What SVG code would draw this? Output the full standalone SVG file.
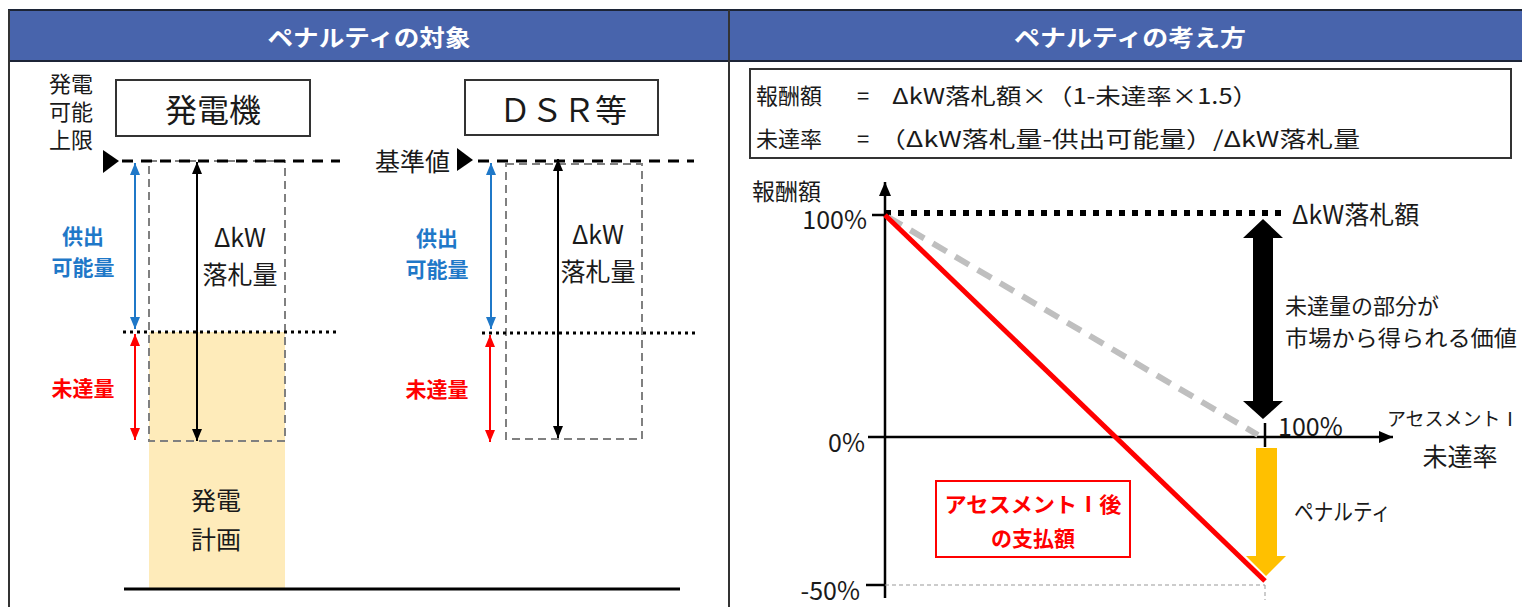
<svg xmlns="http://www.w3.org/2000/svg" width="1522" height="607" viewBox="0 0 1522 607">
<defs>
<style>
text{font-family:"Noto Sans CJK JP","Noto Sans",sans-serif;fill:#1a1a1a;dominant-baseline:central}
.hd{fill:#fff;font-weight:bold;font-size:23px;text-anchor:middle}
.c{text-anchor:middle}
.r{text-anchor:end}
.blue{fill:#1F78C8;font-weight:bold;font-size:21px;text-anchor:middle}
.red{fill:#FF0000;font-weight:bold;font-size:21px;text-anchor:middle}
.lbl{font-size:25px}
.gbox{fill:none;stroke:#808080;stroke-width:2;stroke-dasharray:8 5}
.top{stroke:#000;stroke-width:3;stroke-dasharray:11 8}
.dot{stroke:#000;stroke-width:3;stroke-dasharray:3 4}
</style>
<marker id="aK" viewBox="0 0 12 10" markerWidth="12" markerHeight="10" refX="12" refY="5" markerUnits="userSpaceOnUse" orient="auto-start-reverse"><path d="M0,0L12,5L0,10z" fill="#000"/></marker>
<marker id="aB" viewBox="0 0 12 10" markerWidth="12" markerHeight="10" refX="12" refY="5" markerUnits="userSpaceOnUse" orient="auto-start-reverse"><path d="M0,0L12,5L0,10z" fill="#1F78C8"/></marker>
<marker id="aR" viewBox="0 0 12 10" markerWidth="12" markerHeight="10" refX="12" refY="5" markerUnits="userSpaceOnUse" orient="auto-start-reverse"><path d="M0,0L12,5L0,10z" fill="#FF0000"/></marker>
<marker id="aAx" viewBox="0 0 14 12" markerWidth="14" markerHeight="12" refX="14" refY="6" markerUnits="userSpaceOnUse" orient="auto"><path d="M0,0L14,6L0,12z" fill="#000"/></marker>
</defs>
<rect width="1522" height="607" fill="#fff"/>

<g id="header">
<rect x="9" y="10" width="1520" height="51" fill="#4864AC" stroke="#1c2436" stroke-width="2"/>
<text class="hd" x="369" y="36" textLength="203" lengthAdjust="spacingAndGlyphs">ペナルティの対象</text>
<text class="hd" x="1130" y="36" textLength="232" lengthAdjust="spacingAndGlyphs">ペナルティの考え方</text>
</g>
<g id="frame">
<line x1="9" y1="10" x2="9" y2="607" stroke="#333" stroke-width="2"/>
<line x1="729" y1="10" x2="729" y2="607" stroke="#333" stroke-width="2"/>
</g>

<!-- Left: generator -->
<g id="gen-fill"><rect x="149" y="332" width="136" height="257" fill="#FEEBBA"/></g>
<g id="gen-limit">
<text class="c" font-size="22"><tspan x="71" y="82">発電</tspan><tspan x="71" y="110">可能</tspan><tspan x="71" y="138">上限</tspan></text>
<polygon points="103,150 119,161 103,173" fill="#000"/>
</g>
<g id="gen-box">
<rect x="116" y="80" width="194" height="56" fill="#fff" stroke="#333" stroke-width="2"/>
<text class="c" x="213" y="108" font-size="32">発電機</text>
</g>
<g id="gen-dlr"><rect class="gbox" x="149" y="161" width="136" height="280"/></g>
<g id="gen-labels">
<text class="blue" x="83" y="235">供出</text>
<text class="blue" x="83" y="266">可能量</text>
<text class="red" x="83" y="387">未達量</text>
<text class="lbl c" x="240" y="236">ΔkW</text>
<text class="lbl c" x="240" y="273">落札量</text>
<text class="lbl c" x="216" y="499">発電</text>
<text class="lbl c" x="216" y="538">計画</text>
</g>

<!-- Left: DSR -->
<g id="dsr-box">
<rect x="465" y="80" width="193" height="55" fill="#fff" stroke="#333" stroke-width="2"/>
<text class="c" x="563" y="108" font-size="32">ＤＳＲ等</text>
</g>
<g id="dsr-base">
<text class="lbl r" x="450" y="160">基準値</text>
<polygon points="457,148 473,160 457,171" fill="#000"/>
</g>
<g id="dsr-dlr"><rect class="gbox" x="506" y="164" width="136" height="275"/></g>
<g id="dsr-labels">
<text class="blue" x="437" y="237">供出</text>
<text class="blue" x="437" y="268">可能量</text>
<text class="red" x="437" y="388">未達量</text>
<text class="lbl c" x="598" y="233">ΔkW</text>
<text class="lbl c" x="598" y="270">落札量</text>
</g>

<g id="left-connectors">
<line class="top" x1="122" y1="161" x2="340" y2="161"/>
<line class="dot" x1="123" y1="332" x2="340" y2="332"/>
<line class="top" x1="478" y1="161" x2="694" y2="161"/>
<line class="dot" x1="482" y1="333" x2="695" y2="333"/>
<line x1="135" y1="163" x2="135" y2="329" stroke="#1F78C8" stroke-width="2" marker-start="url(#aB)" marker-end="url(#aB)"/>
<line x1="135" y1="334" x2="135" y2="440" stroke="#FF0000" stroke-width="2" marker-start="url(#aR)" marker-end="url(#aR)"/>
<line x1="197" y1="162" x2="197" y2="441" stroke="#000" stroke-width="2" marker-start="url(#aK)" marker-end="url(#aK)"/>
<line x1="491" y1="163" x2="491" y2="329" stroke="#1F78C8" stroke-width="2" marker-start="url(#aB)" marker-end="url(#aB)"/>
<line x1="490" y1="335" x2="490" y2="442" stroke="#FF0000" stroke-width="2" marker-start="url(#aR)" marker-end="url(#aR)"/>
<line x1="558" y1="159" x2="558" y2="438" stroke="#000" stroke-width="2" marker-start="url(#aK)" marker-end="url(#aK)"/>
<line x1="124" y1="589" x2="680" y2="589" stroke="#000" stroke-width="3"/>
</g>

<!-- Right: formula -->
<g id="formula">
<rect x="750" y="69" width="761" height="89" fill="#fff" stroke="#333" stroke-width="2"/>
<text x="756" y="94" font-size="22">報酬額</text>
<text x="863" y="94" font-size="22" class="c">=</text>
<text x="892" y="94" font-size="22" textLength="366" lengthAdjust="spacingAndGlyphs">ΔkW落札額×（1-未達率×1.5）</text>
<text x="756" y="137" font-size="22">未達率</text>
<text x="863" y="137" font-size="22" class="c">=</text>
<text x="879" y="137" font-size="22" textLength="481" lengthAdjust="spacingAndGlyphs">（ΔkW落札量-供出可能量）/ΔkW落札量</text>
</g>

<!-- Right: chart -->
<g id="chart-labels">
<text x="752" y="190" font-size="23">報酬額</text>
<text class="r" x="867" y="218" font-size="25">100%</text>
<text class="r" x="865" y="441" font-size="25">0%</text>
<text class="r" x="860" y="589" font-size="25">-50%</text>
<text x="1292" y="213" font-size="25">ΔkW落札額</text>
<text x="1285" y="304" font-size="22">未達量の部分が</text>
<text x="1285" y="336" font-size="22" textLength="232" lengthAdjust="spacingAndGlyphs">市場から得られる価値</text>
<text x="1278" y="425" font-size="25">100%</text>
<text x="1387" y="417" font-size="19">アセスメントⅠ</text>
<text class="c" x="1460" y="455" font-size="25">未達率</text>
<text x="1294" y="510" font-size="23" textLength="97" lengthAdjust="spacingAndGlyphs">ペナルティ</text>
</g>
<g id="payment-box">
<rect x="936" y="481" width="194" height="76" fill="#fff" stroke="#FF0000" stroke-width="2"/>
<text class="red" x="1033" y="503" font-size="23" textLength="177" lengthAdjust="spacingAndGlyphs">アセスメントⅠ後</text>
<text class="red" x="1033" y="537" font-size="23">の支払額</text>
</g>

<g id="chart-connectors">
<line x1="885" y1="213" x2="1287" y2="213" stroke="#000" stroke-width="6" stroke-dasharray="6 7"/>
<line x1="885" y1="598" x2="885" y2="182" stroke="#000" stroke-width="2.5" marker-end="url(#aAx)"/>
<line x1="872" y1="215" x2="885" y2="215" stroke="#000" stroke-width="2.5"/>
<line x1="868" y1="437" x2="1393" y2="437" stroke="#000" stroke-width="2.5" marker-end="url(#aAx)"/>
<line x1="866" y1="585" x2="885" y2="585" stroke="#000" stroke-width="2.5"/>
<line x1="1265" y1="423" x2="1265" y2="447" stroke="#000" stroke-width="2.5"/>
<line x1="885" y1="585" x2="1265" y2="585" stroke="#999" stroke-width="1" stroke-dasharray="4 3"/>
<line x1="1265" y1="585" x2="1265" y2="600" stroke="#999" stroke-width="1" stroke-dasharray="4 3"/>
<line x1="888" y1="217" x2="1258" y2="435" stroke="#BFBFBF" stroke-width="6" stroke-dasharray="16 10"/>
<line x1="885" y1="215" x2="1265" y2="581" stroke="#FF0000" stroke-width="5"/>
<polygon points="1263,219 1283,238 1273,238 1273,401 1283,401 1263,419 1243,401 1253,401 1253,238 1243,238" fill="#000"/>
<polygon points="1256,448 1277,448 1277,556 1286,556 1266,576 1246,556 1256,556" fill="#FFC000"/>
</g>
</svg>
